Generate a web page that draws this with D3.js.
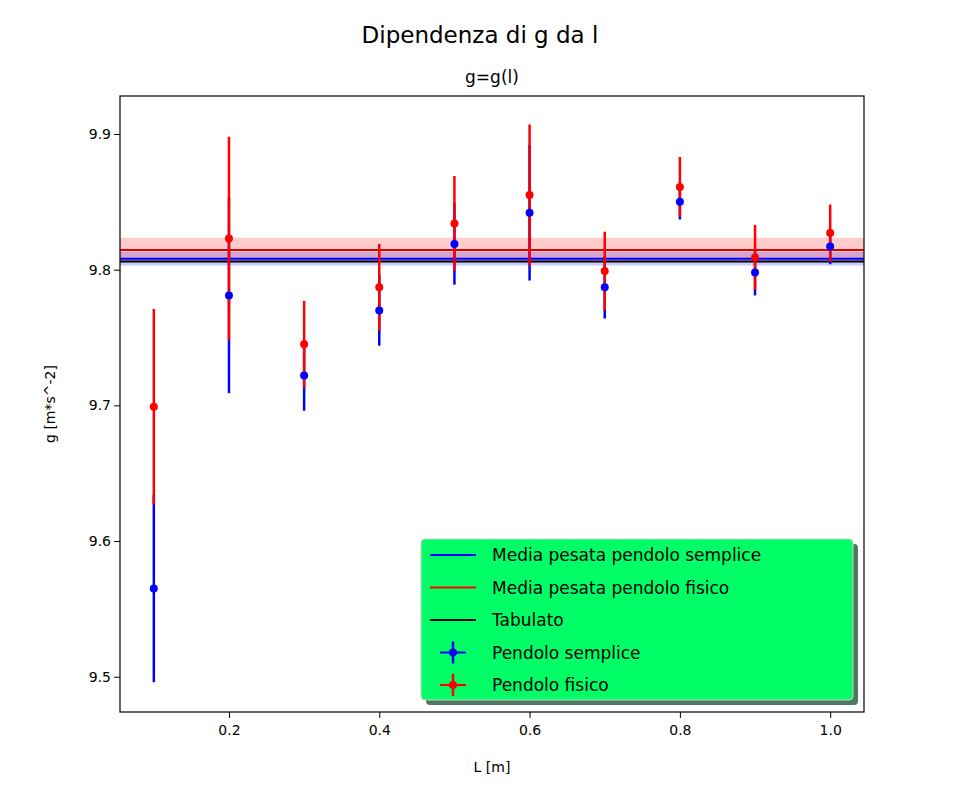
<!DOCTYPE html>
<html><head><meta charset="utf-8">
<script src="https://d3js.org/d3.v7.min.js"></script>
<style>body{margin:0;background:#fff}svg{font-family:"DejaVu Sans",sans-serif}</style>
</head><body>
<script>
const L = [0.1,0.2,0.3,0.4,0.5,0.6,0.7,0.8,0.9,1.0];
const gSemplice = [9.565,9.781,9.722,9.770,9.819,9.842,9.787,9.850,9.798,9.817];
const errSemplice = [0.069,0.072,0.026,0.026,0.030,0.050,0.023,0.013,0.017,0.013];
const gFisico = [9.699,9.823,9.745,9.787,9.834,9.855,9.799,9.861,9.809,9.827];
const errFisico = [0.072,0.075,0.032,0.032,0.035,0.052,0.029,0.022,0.024,0.021];
const mediaSemplice = 9.808, errMediaSemplice = 0.005;
const mediaFisico = 9.8145, errMediaFisico = 0.009;
const tabulato = 9.806;
const xTicks = [0.2,0.4,0.6,0.8,1.0];
const yTicks = [9.5,9.6,9.7,9.8,9.9];

const svg = d3.select("body").append("svg").attr("width",960).attr("height",800);
const m = {l:120,r:864,t:96,b:712};
const x = d3.scaleLinear().domain([0.055,1.045]).range([m.l,m.r]);
const y = d3.scaleLinear().domain([9.474,9.928]).range([m.b,m.t]);

svg.append("text").attr("x",480).attr("y",43).attr("text-anchor","middle").attr("font-size",23).text("Dipendenza di g da l");
svg.append("text").attr("x",492).attr("y",83).attr("text-anchor","middle").attr("font-size",17).text("g=g(l)");

const g = svg.append("g");
g.append("defs").append("clipPath").attr("id","c").append("rect").attr("x",m.l).attr("y",m.t).attr("width",m.r-m.l).attr("height",m.b-m.t);
const p = g.append("g").attr("clip-path","url(#c)");
// bands
[[mediaSemplice,errMediaSemplice,"blue"],[mediaFisico,errMediaFisico,"red"]].forEach(([v,e,c])=>{
  p.append("rect").attr("x",m.l).attr("width",m.r-m.l).attr("y",y(v+e)).attr("height",y(v-e)-y(v+e)).attr("fill",c).attr("opacity",0.2);
});
[[mediaSemplice,"blue"],[mediaFisico,"#e00000"],[tabulato,"black"]].forEach(([v,c])=>{
  p.append("line").attr("x1",m.l).attr("x2",m.r).attr("y1",y(v)).attr("y2",y(v)).attr("stroke",c).attr("stroke-width",2);
});
function bars(vals,errs,c){
  p.selectAll(null).data(L).enter().append("line")
   .attr("x1",d=>x(d)).attr("x2",d=>x(d))
   .attr("y1",(d,i)=>y(vals[i]-errs[i])).attr("y2",(d,i)=>y(vals[i]+errs[i]))
   .attr("stroke",c).attr("stroke-width",2.5);
}
function dots(vals,c){
  p.selectAll(null).data(L).enter().append("circle")
   .attr("cx",d=>x(d)).attr("cy",(d,i)=>y(vals[i])).attr("r",4).attr("fill",c);
}
bars(gSemplice,errSemplice,"blue");
bars(gFisico,errFisico,"red");
dots(gSemplice,"blue");
dots(gFisico,"red");

const xa = svg.append("g").attr("transform",`translate(0,${m.b})`).call(d3.axisBottom(x).tickValues(xTicks).tickFormat(d3.format(".1f")).tickSizeOuter(0));
const ya = svg.append("g").attr("transform",`translate(${m.l},0)`).call(d3.axisLeft(y).tickValues(yTicks).tickFormat(d3.format(".1f")).tickSizeOuter(0));
[xa,ya].forEach(a=>{a.select(".domain").remove();a.selectAll("text").attr("font-size",14).attr("font-family","DejaVu Sans");a.selectAll("line").attr("stroke","black");});
xa.selectAll("text").attr("dy","1em");
svg.append("rect").attr("x",m.l).attr("y",m.t).attr("width",m.r-m.l).attr("height",m.b-m.t).attr("fill","none").attr("stroke","black").attr("stroke-width",1.2);
svg.append("text").attr("x",492).attr("y",772).attr("text-anchor","middle").attr("font-size",14).text("L [m]");
svg.append("text").attr("transform","translate(55,404) rotate(-90)").attr("text-anchor","middle").attr("font-size",14).text("g [m*s^-2]");

// legend
const lg = svg.append("g");
lg.append("rect").attr("x",426).attr("y",544).attr("width",432).attr("height",161).attr("rx",4).attr("fill","#4d7a5e");
lg.append("rect").attr("x",421).attr("y",539).attr("width",432).attr("height",161).attr("rx",4).attr("fill","#00ff66").attr("stroke","#cccccc");
const items = [["Media pesata pendolo semplice","blue","line"],["Media pesata pendolo fisico","red","line"],["Tabulato","black","line"],["Pendolo semplice","blue","pt"],["Pendolo fisico","red","pt"]];
items.forEach((it,i)=>{
  const yy = 555+i*32.5;
  if(it[2]==="line") lg.append("line").attr("x1",430).attr("x2",476).attr("y1",yy).attr("y2",yy).attr("stroke",it[1]).attr("stroke-width",2);
  else {
    lg.append("line").attr("x1",440).attr("x2",466).attr("y1",yy).attr("y2",yy).attr("stroke",it[1]).attr("stroke-width",2);
    lg.append("line").attr("x1",453).attr("x2",453).attr("y1",yy-11).attr("y2",yy+11).attr("stroke",it[1]).attr("stroke-width",2.5);
    lg.append("circle").attr("cx",453).attr("cy",yy).attr("r",4).attr("fill",it[1]);
  }
  lg.append("text").attr("x",492).attr("y",yy+6).attr("font-size",17).text(it[0]);
});
</script>
</body></html>
